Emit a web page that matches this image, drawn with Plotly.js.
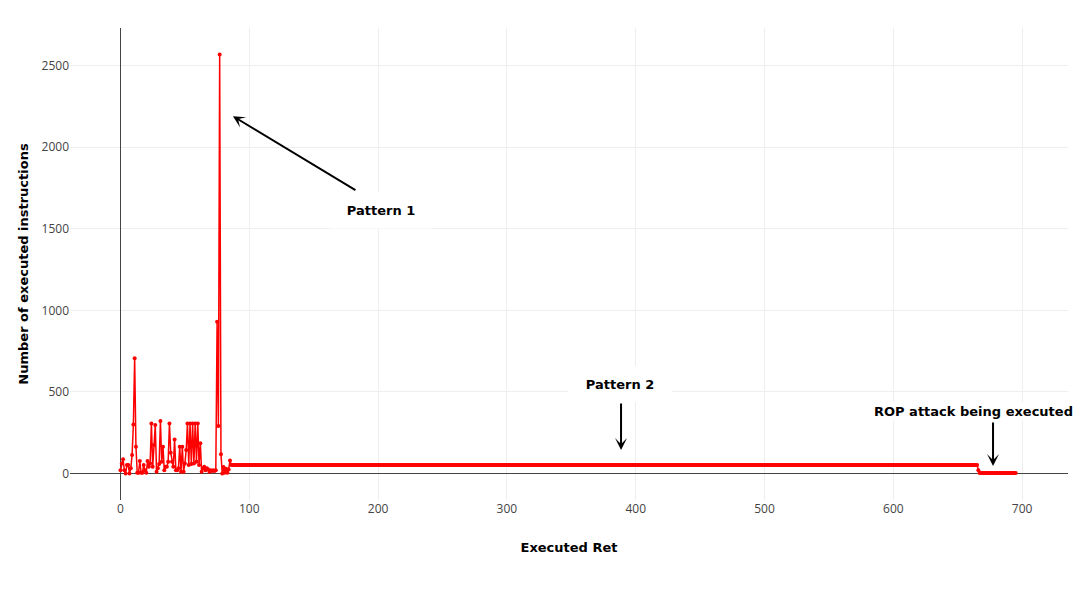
<!DOCTYPE html>
<html>
<head>
<meta charset="utf-8">
<script src="https://cdn.plot.ly/plotly-3.0.1.min.js"></script>
<style>
  html, body { margin: 0; padding: 0; background: #fff; }
  #chart { width: 1090px; height: 590px; }
</style>
</head>
<body>
<div id="chart"></div>
<script>
// Executed instructions per executed ret (index = executed ret)
const earlyCounts = [
  21, 62, 87, 21, 0, 52, 52, 0, 32, 113,
  301, 706, 164, 5, 5, 77, 5, 5, 52, 21,
  5, 77, 42, 62, 307, 42, 175, 297, 11, 32,
  58, 322, 72, 164, 21, 42, 42, 72, 307, 128,
  72, 42, 209, 21, 21, 32, 164, 11, 164, 11,
  62, 144, 307, 52, 307, 58, 307, 62, 307, 72,
  307, 52, 185, 11, 32, 42, 21, 32, 26, 11,
  21, 16, 21, 16, 21, 930, 291, 2568, 119, 0,
  40, 5, 30, 5, 25, 80
];

// Pattern 2: constant run (580 rets)
const patternTwoCounts = [
  52,52,52,52,52,52,52,52,52,52,52,52,52,52,52,52,52,52,52,52,
  52,52,52,52,52,52,52,52,52,52,52,52,52,52,52,52,52,52,52,52,
  52,52,52,52,52,52,52,52,52,52,52,52,52,52,52,52,52,52,52,52,
  52,52,52,52,52,52,52,52,52,52,52,52,52,52,52,52,52,52,52,52,
  52,52,52,52,52,52,52,52,52,52,52,52,52,52,52,52,52,52,52,52,
  52,52,52,52,52,52,52,52,52,52,52,52,52,52,52,52,52,52,52,52,
  52,52,52,52,52,52,52,52,52,52,52,52,52,52,52,52,52,52,52,52,
  52,52,52,52,52,52,52,52,52,52,52,52,52,52,52,52,52,52,52,52,
  52,52,52,52,52,52,52,52,52,52,52,52,52,52,52,52,52,52,52,52,
  52,52,52,52,52,52,52,52,52,52,52,52,52,52,52,52,52,52,52,52,
  52,52,52,52,52,52,52,52,52,52,52,52,52,52,52,52,52,52,52,52,
  52,52,52,52,52,52,52,52,52,52,52,52,52,52,52,52,52,52,52,52,
  52,52,52,52,52,52,52,52,52,52,52,52,52,52,52,52,52,52,52,52,
  52,52,52,52,52,52,52,52,52,52,52,52,52,52,52,52,52,52,52,52,
  52,52,52,52,52,52,52,52,52,52,52,52,52,52,52,52,52,52,52,52,
  52,52,52,52,52,52,52,52,52,52,52,52,52,52,52,52,52,52,52,52,
  52,52,52,52,52,52,52,52,52,52,52,52,52,52,52,52,52,52,52,52,
  52,52,52,52,52,52,52,52,52,52,52,52,52,52,52,52,52,52,52,52,
  52,52,52,52,52,52,52,52,52,52,52,52,52,52,52,52,52,52,52,52,
  52,52,52,52,52,52,52,52,52,52,52,52,52,52,52,52,52,52,52,52,
  52,52,52,52,52,52,52,52,52,52,52,52,52,52,52,52,52,52,52,52,
  52,52,52,52,52,52,52,52,52,52,52,52,52,52,52,52,52,52,52,52,
  52,52,52,52,52,52,52,52,52,52,52,52,52,52,52,52,52,52,52,52,
  52,52,52,52,52,52,52,52,52,52,52,52,52,52,52,52,52,52,52,52,
  52,52,52,52,52,52,52,52,52,52,52,52,52,52,52,52,52,52,52,52,
  52,52,52,52,52,52,52,52,52,52,52,52,52,52,52,52,52,52,52,52,
  52,52,52,52,52,52,52,52,52,52,52,52,52,52,52,52,52,52,52,52,
  52,52,52,52,52,52,52,52,52,52,52,52,52,52,52,52,52,52,52,52,
  52,52,52,52,52,52,52,52,52,52,52,52,52,52,52,52,52,52,52,52
];

// ROP attack being executed
const attackCounts = [
  20,
  3,3,3,3,3,3,3,3,3,3,
  3,3,3,3,3,3,3,3,3,3,
  3,3,3,3,3,3,3,3,3
];

const counts = earlyCounts.concat(patternTwoCounts, attackCounts);

const xTitle = "Executed Ret";
const yTitle = "Number of executed instructions";
const labelPattern1 = "Pattern 1";
const labelPattern2 = "Pattern 2";
const labelRop = "ROP attack being executed";

const boldFont = { family: "DejaVu Sans, Verdana, sans-serif", size: 13, color: "#000", weight: "bold" };
const tickFont = { family: "Open Sans, Noto Sans, sans-serif", size: 12, color: "#444" };

const trace = {
  type: "scatter",
  mode: "lines+markers",
  x0: 0,
  dx: 1,
  y: counts,
  line: { color: "#ff0000", width: 1.5 },
  marker: { color: "#ff0000", size: 4 },
  hoverinfo: "x+y"
};

const arrowStyle = { showarrow: true, arrowhead: 3, arrowsize: 1, arrowwidth: 2, arrowcolor: "#000", text: "", axref: "pixel", ayref: "pixel" };

const layout = {
  width: 1090,
  height: 590,
  margin: { l: 70, r: 22, t: 28, b: 90 },
  paper_bgcolor: "#fff",
  plot_bgcolor: "#fff",
  showlegend: false,
  xaxis: {
    range: [-39.2, 735.6],
    dtick: 100,
    tick0: 0,
    showgrid: true,
    gridcolor: "#eeeeee",
    zeroline: true,
    zerolinecolor: "#444",
    zerolinewidth: 1,
    showline: false,
    ticks: "",
    tickfont: tickFont,
    title: { text: xTitle, font: boldFont, standoff: 26 }
  },
  yaxis: {
    range: [-162, 2730],
    dtick: 500,
    tick0: 0,
    showgrid: true,
    gridcolor: "#eeeeee",
    zeroline: true,
    zerolinecolor: "#444",
    zerolinewidth: 1,
    showline: false,
    ticks: "",
    tickfont: tickFont,
    title: { text: yTitle, font: boldFont, standoff: 9 }
  },
  annotations: [
    Object.assign({}, arrowStyle, { x: 87.3, y: 2190, xref: "x", yref: "y", ax: 124, ay: 75 }),
    Object.assign({}, arrowStyle, { x: 388.6, y: 144, xref: "x", yref: "y", ax: 0, ay: -48 }),
    Object.assign({}, arrowStyle, { x: 677.4, y: 46, xref: "x", yref: "y", ax: 0, ay: -45 }),
    { x: 201.9, y: 1614.6, xref: "x", yref: "y", text: labelPattern1, showarrow: false, font: boldFont, bgcolor: "#fff", width: 100, height: 34 },
    { x: 388.0, y: 548.4, xref: "x", yref: "y", text: labelPattern2, showarrow: false, font: boldFont, bgcolor: "#fff", width: 100, height: 34 },
    { x: 662.3, y: 383, xref: "x", yref: "y", text: labelRop, showarrow: false, font: boldFont, bgcolor: "#fff" }
  ]
};

Plotly.newPlot("chart", [trace], layout, { displayModeBar: false, responsive: false });
</script>
</body>
</html>
